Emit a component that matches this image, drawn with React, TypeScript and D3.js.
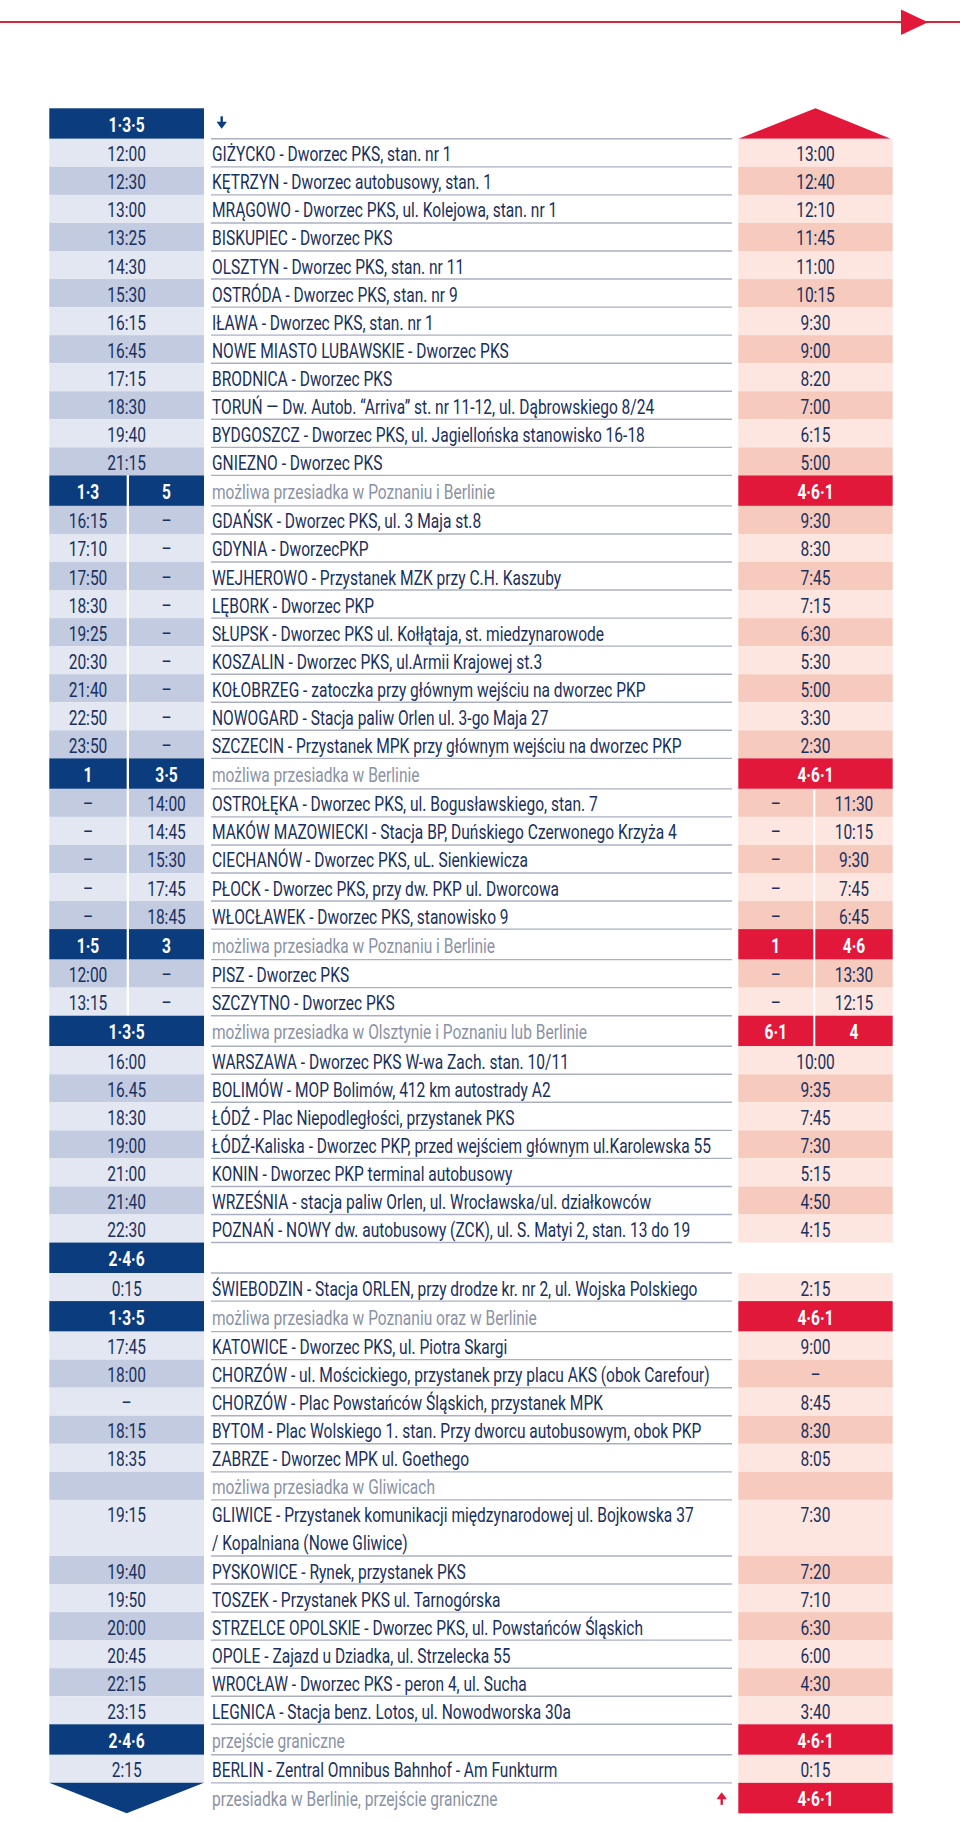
import React from 'react';
import * as d3 from 'd3';

// ---------- DATA ----------
// H = day header, R = stop row, N = note row, D = double-height stop row, F = footer
const rowTypes: string[] = [
  'H',
  'R','R','R','R','R','R','R','R','R','R','R','R',
  'H',
  'R','R','R','R','R','R','R','R','R',
  'H',
  'R','R','R','R','R',
  'H',
  'R','R',
  'H',
  'R','R','R','R','R','R','R',
  'H',
  'R',
  'H',
  'R','R','R','R','R',
  'N',
  'D',
  'R','R','R','R','R','R',
  'H',
  'R',
  'F',
];

const departures: string[] = [
  '1·3·5',
  '12:00','12:30','13:00','13:25','14:30','15:30','16:15','16:45','17:15','18:30','19:40','21:15',
  '1·3|5',
  '16:15|–','17:10|–','17:50|–','18:30|–','19:25|–','20:30|–','21:40|–','22:50|–','23:50|–',
  '1|3·5',
  '–|14:00','–|14:45','–|15:30','–|17:45','–|18:45',
  '1·5|3',
  '12:00|–','13:15|–',
  '1·3·5',
  '16:00','16.45','18:30','19:00','21:00','21:40','22:30',
  '2·4·6',
  '0:15',
  '1·3·5',
  '17:45','18:00','–','18:15','18:35',
  '',
  '19:15',
  '19:40','19:50','20:00','20:45','22:15','23:15',
  '2·4·6',
  '2:15',
  '',
];

const stops: string[] = [
  '',
  'GIŻYCKO - Dworzec PKS, stan. nr 1',
  'KĘTRZYN - Dworzec autobusowy, stan. 1',
  'MRĄGOWO - Dworzec PKS, ul. Kolejowa, stan. nr 1',
  'BISKUPIEC - Dworzec PKS',
  'OLSZTYN - Dworzec PKS, stan. nr 11',
  'OSTRÓDA - Dworzec PKS, stan. nr 9',
  'IŁAWA - Dworzec PKS, stan. nr 1',
  'NOWE MIASTO LUBAWSKIE - Dworzec PKS',
  'BRODNICA - Dworzec PKS',
  'TORUŃ — Dw. Autob. “Arriva” st. nr 11-12, ul. Dąbrowskiego 8/24',
  'BYDGOSZCZ - Dworzec PKS, ul. Jagiellońska stanowisko 16-18',
  'GNIEZNO - Dworzec PKS',
  'możliwa przesiadka w Poznaniu i Berlinie',
  'GDAŃSK - Dworzec PKS, ul. 3 Maja st.8',
  'GDYNIA - DworzecPKP',
  'WEJHEROWO - Przystanek MZK przy C.H. Kaszuby',
  'LĘBORK - Dworzec PKP',
  'SŁUPSK - Dworzec PKS ul. Kołłątaja, st. miedzynarowode',
  'KOSZALIN - Dworzec PKS, ul.Armii Krajowej st.3',
  'KOŁOBRZEG - zatoczka przy głównym wejściu na dworzec PKP',
  'NOWOGARD - Stacja paliw Orlen ul. 3-go Maja 27',
  'SZCZECIN - Przystanek MPK przy głównym wejściu na dworzec PKP',
  'możliwa przesiadka w Berlinie',
  'OSTROŁĘKA - Dworzec PKS, ul. Bogusławskiego, stan. 7',
  'MAKÓW MAZOWIECKI - Stacja BP, Duńskiego Czerwonego Krzyża 4',
  'CIECHANÓW - Dworzec PKS, uL. Sienkiewicza',
  'PŁOCK - Dworzec PKS, przy dw. PKP ul. Dworcowa',
  'WŁOCŁAWEK - Dworzec PKS, stanowisko 9',
  'możliwa przesiadka w Poznaniu i Berlinie',
  'PISZ - Dworzec PKS',
  'SZCZYTNO - Dworzec PKS',
  'możliwa przesiadka w Olsztynie i Poznaniu lub Berlinie',
  'WARSZAWA - Dworzec PKS W-wa Zach. stan. 10/11',
  'BOLIMÓW - MOP Bolimów, 412 km autostrady A2',
  'ŁÓDŹ - Plac Niepodległości, przystanek PKS',
  'ŁÓDŹ-Kaliska - Dworzec PKP, przed wejściem głównym ul.Karolewska 55',
  'KONIN - Dworzec PKP terminal autobusowy',
  'WRZEŚNIA - stacja paliw Orlen, ul. Wrocławska/ul. działkowców',
  'POZNAŃ - NOWY dw. autobusowy (ZCK), ul. S. Matyi 2, stan. 13 do 19',
  '',
  'ŚWIEBODZIN - Stacja ORLEN, przy drodze kr. nr 2, ul. Wojska Polskiego',
  'możliwa przesiadka w Poznaniu oraz w Berlinie',
  'KATOWICE - Dworzec PKS, ul. Piotra Skargi',
  'CHORZÓW - ul. Mościckiego, przystanek przy placu AKS (obok Carefour)',
  'CHORZÓW - Plac Powstańców Śląskich, przystanek MPK',
  'BYTOM - Plac Wolskiego 1. stan. Przy dworcu autobusowym, obok PKP',
  'ZABRZE - Dworzec MPK ul. Goethego',
  'możliwa przesiadka w Gliwicach',
  'GLIWICE - Przystanek komunikacji międzynarodowej ul. Bojkowska 37\n/ Kopalniana (Nowe Gliwice)',
  'PYSKOWICE - Rynek, przystanek PKS',
  'TOSZEK - Przystanek PKS ul. Tarnogórska',
  'STRZELCE OPOLSKIE - Dworzec PKS, ul. Powstańców Śląskich',
  'OPOLE - Zajazd u Dziadka, ul. Strzelecka 55',
  'WROCŁAW - Dworzec PKS - peron 4, ul. Sucha',
  'LEGNICA - Stacja benz. Lotos, ul. Nowodworska 30a',
  'przejście graniczne',
  'BERLIN - Zentral Omnibus Bahnhof - Am Funkturm',
  'przesiadka w Berlinie, przejście graniczne',
];

const returns: string[] = [
  '^',
  '13:00','12:40','12:10','11:45','11:00','10:15','9:30','9:00','8:20','7:00','6:15','5:00',
  '4·6·1',
  '9:30','8:30','7:45','7:15','6:30','5:30','5:00','3:30','2:30',
  '4·6·1',
  '–|11:30','–|10:15','–|9:30','–|7:45','–|6:45',
  '1|4·6',
  '–|13:30','–|12:15',
  '6·1|4',
  '10:00','9:35','7:45','7:30','5:15','4:50','4:15',
  '',
  '2:15',
  '4·6·1',
  '9:00','–','8:45','8:30','8:05',
  '',
  '7:30',
  '7:20','7:10','6:30','6:00','4:30','3:40',
  '4·6·1',
  '0:15',
  '4·6·1',
];

// which sections (after each header) begin with a darker band
const sectionStartsDark: boolean[] = [false, true, true, true, false, false, false, false];

// ---------- STYLE / LAYOUT ----------
const W = 960;
const HGT = 1822;
const TOP = 108.3;
const ROW_H = 28.05;
const HEAD_H = 30.5;
const NAVY = '#0b3c7e';
const RED = '#e2183b';
const LIGHT_BLUE = '#e3e7f1';
const DARK_BLUE = '#c3cbe1';
const LIGHT_PINK = '#fde6df';
const DARK_PINK = '#f7cabe';
const TEXT = '#19305e';
const GREY = '#8a92a7';
const RULE = '#aab0c0';
const FONT = "Roboto, 'Liberation Sans', sans-serif";
const SX = 0.74;
const FS = 21;

const LEFT = { x0: 49.3, x1: 204, split: 126.7, gap: 2.3 };
const RIGHT = { x0: 738.3, x1: 892.7, split: 813.3, gap: 2 };
const TEXT_X = 212;
const RULE_X0 = 211;
const RULE_X1 = 732;

const heightOf = (t: string) => (t === 'H' || t === 'F' ? HEAD_H : t === 'D' ? ROW_H * 2 : ROW_H);

type Col = { x0: number; x1: number; split: number; gap: number };
const cells = (col: Col, s: string) => {
  if (s.includes('|')) {
    const [a, b] = s.split('|');
    return [
      { x0: col.x0, x1: col.split, label: a },
      { x0: col.split + col.gap, x1: col.x1, label: b },
    ];
  }
  return [{ x0: col.x0, x1: col.x1, label: s }];
};

function T(props: {
  x: number; y: number; anchor?: string; fill: string; size?: number; bold?: boolean; children: React.ReactNode;
}) {
  const { x, y, anchor = 'start', fill, size = FS, bold = false, children } = props;
  return (
    <text
      transform={`translate(${x},${y}) scale(${SX},1)`}
      textAnchor={anchor as any}
      fill={fill}
      fontSize={size}
      fontWeight={bold ? 700 : 400}
      fontFamily={FONT}
    >
      {children}
    </text>
  );
}

export default function App() {
  const heights = rowTypes.map(heightOf);
  const cum = Array.from(d3.cumsum(heights));
  const yScale = d3.scaleLinear().domain([0, cum[cum.length - 1]]).range([TOP, TOP + cum[cum.length - 1]]);
  const tops = heights.map((h, i) => yScale(cum[i] - h));

  // shading
  let section = -1;
  let idx = 0;
  const dark: boolean[] = rowTypes.map((t) => {
    if (t === 'H') {
      section += 1;
      idx = 0;
      return false;
    }
    const d = ((idx + (sectionStartsDark[section] ? 1 : 0)) % 2) === 1;
    idx += 1;
    return d;
  });

  return (
    <svg
      width={W}
      height={HGT}
      viewBox={`0 0 ${W} ${HGT}`}
      style={{ position: 'absolute', left: 0, top: 0, display: 'block', background: '#fff' }}
    >
      {/* top decorative line with arrow */}
      <line x1={0} x2={W} y1={22} y2={22} stroke="#d8263f" strokeWidth={2} />
      <polygon points="901,9.5 901,35 928,22.3" fill={RED} />

      {rowTypes.map((t, i) => {
        const y0 = tops[i];
        const h = heights[i];
        const y1 = y0 + h;
        const els: React.ReactNode[] = [];
        const isHead = t === 'H';
        const base = isHead || t === 'F' ? y0 + 23.5 : y0 + 22.5;

        // left column
        if (t === 'F') {
          els.push(
            <polygon key="lt" points={`${LEFT.x0},${y0} ${LEFT.x1},${y0} ${LEFT.split},${y1}`} fill={NAVY} />
          );
        } else {
          cells(LEFT, departures[i]).forEach((c, k) => {
            els.push(
              <rect key={`l${k}`} x={c.x0} y={y0} width={c.x1 - c.x0} height={h}
                fill={isHead ? NAVY : dark[i] ? DARK_BLUE : LIGHT_BLUE} />
            );
            if (c.label)
              els.push(
                <T key={`lt${k}`} x={(c.x0 + c.x1) / 2} y={base} anchor="middle"
                  fill={isHead ? '#fff' : TEXT} bold={isHead}>{c.label}</T>
              );
          });
        }

        // right column
        const r = returns[i];
        if (r === '^') {
          els.push(
            <polygon key="rt" points={`${RIGHT.x0},${y1} ${(RIGHT.x0 + RIGHT.x1) / 2},${y0} ${RIGHT.x1 - 2},${y1}`} fill={RED} />
          );
        } else if (r !== '' || t === 'N') {
          cells(RIGHT, r).forEach((c, k) => {
            const head = isHead || t === 'F';
            els.push(
              <rect key={`r${k}`} x={c.x0} y={y0} width={c.x1 - c.x0} height={h}
                fill={head ? RED : dark[i] ? DARK_PINK : LIGHT_PINK} />
            );
            if (c.label)
              els.push(
                <T key={`rt${k}`} x={(c.x0 + c.x1) / 2} y={base} anchor="middle"
                  fill={head ? '#fff' : TEXT} bold={head}>{c.label}</T>
              );
          });
        }

        // middle text
        const s = stops[i];
        const grey = isHead || t === 'N' || t === 'F';
        s.split('\n').forEach((line, k) => {
          if (line)
            els.push(
              <T key={`m${k}`} x={TEXT_X} y={base + k * ROW_H} fill={grey ? GREY : TEXT}>{line}</T>
            );
        });

        // arrows
        if (i === 0) {
          els.push(
            <g key="down" fill={NAVY} stroke={NAVY}>
              <line x1={221.7} x2={221.7} y1={y0 + 8} y2={y0 + 15} strokeWidth={2.4} />
              <polygon points={`${216.5},${y0 + 13.5} ${226.9},${y0 + 13.5} ${221.7},${y0 + 20.5}`} stroke="none" />
            </g>
          );
        }
        if (t === 'F') {
          els.push(
            <g key="up" fill={RED} stroke={RED}>
              <line x1={721.7} x2={721.7} y1={y0 + 15} y2={y0 + 22} strokeWidth={2.4} />
              <polygon points={`${716.5},${y0 + 16.5} ${726.9},${y0 + 16.5} ${721.7},${y0 + 9.5}`} stroke="none" />
            </g>
          );
        }

        // rule under row
        if (t !== 'F') {
          els.push(
            <line key="rule" x1={RULE_X0} x2={RULE_X1} y1={y1} y2={y1} stroke={RULE} strokeWidth={1.4} />
          );
        }
        return <g key={i}>{els}</g>;
      })}
    </svg>
  );
}
